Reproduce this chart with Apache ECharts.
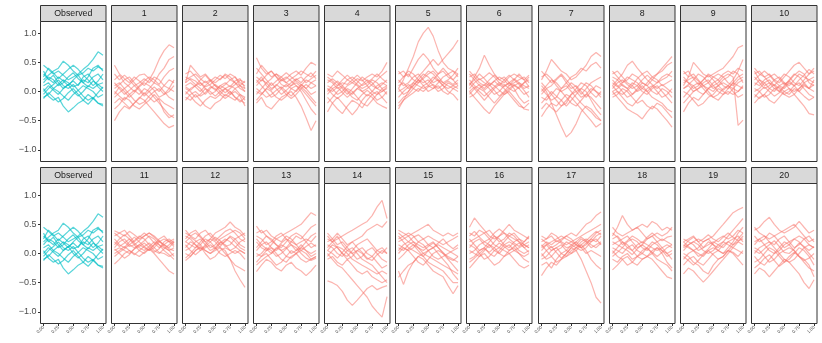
<!DOCTYPE html>
<html>
<head>
<meta charset="utf-8">
<script src="https://cdn.jsdelivr.net/npm/echarts@6/dist/echarts.min.js"></script>
<style>
  html, body { margin: 0; padding: 0; background: #fff; }
  #chart { width: 822px; height: 343px; }
</style>
</head>
<body>
<div id="chart"></div>
<script>
// -----------------------------
// DATA (curves sampled on xGrid)
// -----------------------------
const xGrid = [0, .083, .167, .25, .333, .417, .5, .583, .667, .75, .833, .917, 1];
const xTicks = [0, 0.25, 0.5, 0.75, 1];
const yTicks = [-1, -0.5, 0, 0.5, 1];

const observed = [
  [.45,.38,.30,.35,.28,.20,.25,.30,.38,.45,.55,.68,.62],
  [.20,.28,.35,.40,.52,.45,.35,.28,.32,.40,.35,.42,.38],
  [.10,.15,.05,.12,.20,.15,.08,.12,.20,.15,.25,.30,.20],
  [-.10,-.05,.05,.00,-.08,-.15,-.05,.02,.10,.05,.00,-.10,-.05],
  [.05,-.08,-.15,-.10,-.25,-.35,-.28,-.20,-.15,-.05,-.12,-.20,-.25],
  [.30,.22,.15,.25,.18,.10,.20,.28,.15,.08,.18,.12,.05],
  [-.05,.05,.12,.20,.10,.05,.12,.02,-.08,-.15,-.10,-.20,-.22],
  [.15,.25,.20,.10,.15,.25,.32,.22,.15,.25,.40,.45,.35],
  [.00,.10,.02,-.05,.05,.12,.00,-.08,.00,.10,.05,.12,.15],
  [.35,.20,.28,.15,.05,.12,.18,.10,.25,.30,.20,.08,.00],
  [-.12,-.02,-.10,-.18,-.12,-.02,.05,-.05,-.15,-.22,-.12,-.02,.08],
  [.25,.40,.32,.22,.30,.38,.45,.38,.28,.20,.10,.18,.30]
];
const sim1 = [
  [.45,.30,.22,.15,.25,.18,.10,.20,.35,.55,.70,.80,.75],
  [-.50,-.35,-.25,-.30,-.20,-.10,-.15,-.25,-.35,-.45,-.55,-.62,-.58],
  [.10,.15,.05,.12,.20,.28,.30,.22,.15,.30,.40,.55,.60],
  [.00,-.08,-.15,-.05,.02,-.05,.05,.00,-.10,-.20,-.30,-.40,-.45],
  [.20,.28,.15,.08,.00,.10,.18,.25,.20,.12,.25,.35,.40],
  [-.10,-.02,.05,-.05,-.15,-.22,-.18,-.08,.00,.05,-.05,.00,.10],
  [.05,.12,.20,.25,.15,.05,-.05,.05,.15,.10,.00,-.10,-.15],
  [-.20,-.12,-.20,-.28,-.20,-.12,-.02,-.10,-.18,-.12,-.20,-.25,-.30],
  [.15,.05,-.05,.02,.10,.02,-.08,.00,.08,.00,.10,.20,.15],
  [-.05,.08,.00,-.10,-.02,.08,.15,.10,.02,-.10,-.05,.05,.00],
  [.30,.20,.28,.20,.10,.15,.22,.15,.25,.20,.10,.05,.20],
  [-.30,-.22,-.10,-.15,-.25,-.30,-.22,-.15,-.05,-.15,-.35,-.45,-.40]
];
const sim2 = [
  [.15,.45,.35,.25,.30,.20,.15,.22,.28,.20,.15,.10,.18],
  [.05,.00,-.10,-.05,.05,.00,-.08,.00,.05,.00,-.10,-.15,-.20],
  [.20,.25,.30,.22,.15,.20,.10,.05,.12,.20,.25,.15,.10],
  [-.10,-.15,-.05,-.15,-.25,-.30,-.20,-.15,-.05,-.10,-.15,-.05,-.10],
  [.10,.15,.08,.00,.10,.18,.25,.20,.30,.25,.15,.05,.00],
  [-.05,.05,.10,.15,.05,-.05,.00,.10,.05,-.05,.00,-.08,-.25],
  [.25,.20,.12,.05,-.05,.05,.12,.05,-.02,.05,.12,.20,.15],
  [.00,-.08,-.18,-.25,-.15,-.08,-.12,-.05,.05,.10,.05,-.05,-.15],
  [.15,.22,.18,.10,.18,.10,.02,.10,.15,.08,.18,.22,.05],
  [.08,.02,.10,.20,.28,.18,.10,.00,-.08,.00,-.10,-.18,-.10],
  [.30,.35,.25,.15,.08,.12,.20,.28,.22,.30,.25,.10,.05],
  [-.15,-.05,.00,-.08,-.02,.08,.05,-.05,-.12,-.05,.05,.10,.00]
];
const sim3 = [
  [.58,.40,.30,.35,.25,.18,.22,.30,.35,.28,.40,.50,.45],
  [-.20,-.10,-.25,-.30,-.20,-.10,-.05,.00,-.10,-.25,-.45,-.67,-.50],
  [.10,.20,.15,.05,.10,.20,.25,.18,.10,.00,-.15,-.30,-.40],
  [.30,.45,.35,.25,.30,.20,.15,.22,.28,.35,.30,.25,.35],
  [.00,-.05,.05,.15,.05,-.05,.02,.10,.15,.08,.00,-.10,-.20],
  [.20,.10,.00,-.10,-.05,.05,.12,.05,.00,.10,.20,.15,.10],
  [-.05,.05,.15,.22,.30,.25,.15,.10,.20,.25,.15,.22,.28],
  [.40,.30,.20,.10,.18,.25,.32,.25,.18,.12,.05,.15,.20],
  [.05,-.02,-.10,-.05,.02,.08,.00,-.08,.02,.12,.05,-.05,.00],
  [-.15,-.05,.05,.00,-.10,-.15,-.08,.05,.10,.05,-.05,-.15,-.25],
  [.25,.18,.28,.35,.25,.12,.08,.15,.22,.15,.25,.32,.22],
  [.15,.25,.10,.02,.12,.05,-.05,-.12,-.05,.05,.12,.05,.10]
];
const sim4 = [
  [.30,.25,.35,.28,.20,.15,.22,.18,.25,.30,.25,.35,.50],
  [-.35,-.20,-.10,-.20,-.30,-.40,-.30,-.15,-.05,-.10,-.20,-.25,-.29],
  [.10,.05,-.05,.00,.10,.15,.10,.00,-.08,.00,.10,.15,.10],
  [.00,.10,.18,.10,.02,-.05,.05,.12,.20,.15,.05,.00,.05],
  [-.10,-.20,-.30,-.38,-.25,-.15,-.20,-.28,-.15,-.05,.00,-.10,-.20],
  [.20,.15,.05,.10,.20,.25,.18,.10,.15,.22,.30,.22,.15],
  [-.20,-.10,.00,.08,.00,-.10,-.15,-.05,.02,-.05,-.15,-.10,.00],
  [.15,.22,.15,.05,-.05,.05,.15,.25,.18,.10,.05,.12,.20],
  [.05,-.05,-.12,-.05,.05,.00,-.10,-.20,-.25,-.15,-.05,.05,-.05],
  [.25,.18,.10,.20,.28,.20,.12,.05,.10,.20,.15,.05,.10],
  [-.05,.05,.10,.15,.12,.20,.28,.20,.10,.00,-.05,.00,.08],
  [.05,.00,.08,-.02,-.10,-.02,.05,.00,.05,.12,.20,.28,.35]
];
const sim5 = [
  [.05,.20,.40,.60,.85,1.00,1.10,.95,.70,.50,.40,.35,.30],
  [-.30,-.15,.00,.15,.25,.35,.45,.55,.45,.55,.65,.75,.88],
  [.30,.35,.25,.40,.55,.65,.55,.40,.30,.35,.25,.20,.30],
  [.10,.15,.05,.10,.20,.30,.25,.15,.20,.10,.05,.10,.15],
  [-.20,-.10,-.05,.05,.00,.10,.15,.25,.18,.10,.00,-.05,-.15],
  [.20,.10,.15,.25,.30,.20,.10,.05,.15,.25,.30,.35,.25],
  [.00,.05,.12,.05,.15,.22,.30,.35,.25,.15,.20,.28,.40],
  [.35,.25,.30,.20,.15,.25,.35,.30,.20,.15,.10,.05,.00],
  [-.10,.00,.08,.15,.10,.05,.10,.20,.30,.40,.30,.20,.10],
  [.15,.25,.35,.30,.20,.10,.00,.05,.10,.00,-.05,.05,.10],
  [.05,-.05,.00,.10,.20,.15,.20,.10,.00,.05,.15,.10,.05],
  [-.25,-.15,-.08,-.02,.05,.00,.08,.12,.05,.12,.18,.12,.20]
];
const sim6 = [
  [.10,.25,.40,.62,.45,.30,.20,.25,.15,.10,.05,.15,.20],
  [.00,-.10,-.20,-.30,-.38,-.25,-.15,-.05,.00,-.10,-.20,-.30,-.32],
  [.35,.25,.15,.10,.20,.28,.20,.15,.25,.30,.25,.20,.28],
  [.20,.10,.05,.12,.05,-.05,.00,.10,.15,.05,-.10,-.20,-.15],
  [-.10,-.05,.05,.00,-.10,-.20,-.10,-.02,.05,.12,.05,-.05,.00],
  [.05,.15,.22,.15,.10,.18,.25,.20,.10,.15,.20,.25,.15],
  [.15,.05,-.05,-.15,-.05,.05,.12,.05,-.05,-.15,-.25,-.28,-.20],
  [.25,.30,.20,.25,.32,.25,.15,.08,.15,.22,.15,.10,.05],
  [-.05,.05,.12,.05,.15,.10,.02,-.05,.02,.10,.15,.05,.10],
  [.30,.20,.10,.02,.10,.18,.10,.20,.28,.20,.12,.02,-.10],
  [.00,.08,.00,-.08,.00,.08,.15,.12,.05,.00,.08,.15,.25],
  [.12,.20,.30,.22,.12,.02,-.08,.00,.10,.20,.30,.20,.08]
];
const sim7 = [
  [.10,.00,-.20,-.40,-.60,-.78,-.70,-.55,-.35,-.25,-.30,-.40,-.50],
  [.20,.35,.55,.45,.35,.30,.20,.25,.35,.45,.60,.67,.60],
  [-.43,-.30,-.20,-.25,-.15,-.05,-.10,-.20,-.30,-.40,-.50,-.61,-.55],
  [.00,.10,.20,.15,.05,.15,.25,.30,.40,.35,.45,.50,.40],
  [.35,.25,.15,.22,.30,.20,.10,.00,.05,.15,.10,.00,-.05],
  [-.10,-.15,-.05,.05,.00,-.10,-.20,-.25,-.15,-.05,-.10,-.20,-.30],
  [.15,.05,.10,.20,.28,.15,.05,.10,.00,-.10,.00,.10,.05],
  [-.20,-.10,.00,-.08,-.15,-.25,-.15,-.05,.05,.00,-.15,-.30,-.40],
  [.25,.30,.22,.10,.00,.05,.15,.08,-.05,.05,.15,.20,.25],
  [-.05,.05,-.05,-.15,-.25,-.20,-.05,.05,.15,.10,-.02,-.10,.00],
  [.05,-.05,-.15,-.10,.05,.10,.00,-.10,-.20,-.28,-.35,-.45,-.50],
  [-.30,-.20,-.28,-.35,-.25,-.15,-.05,.00,-.10,-.05,.05,.00,-.10]
];
const sim8 = [
  [.10,.20,.30,.45,.52,.40,.30,.35,.25,.30,.40,.50,.60],
  [.00,-.10,-.20,-.30,-.35,-.40,-.47,-.35,-.25,-.30,-.40,-.50,-.61],
  [.35,.25,.15,.20,.30,.25,.15,.10,.20,.30,.35,.45,.50],
  [.20,.10,.00,-.10,-.05,.05,.15,.10,.00,-.05,.05,.00,-.10],
  [-.10,-.05,.05,.00,-.10,-.20,-.15,-.25,-.30,-.20,-.25,-.35,-.45],
  [.05,.15,.20,.12,.05,.10,.20,.28,.20,.15,.20,.25,.35],
  [.25,.20,.10,.05,.15,.10,.00,-.05,.05,.10,.00,-.10,-.20],
  [-.05,.00,-.10,-.20,-.25,-.15,-.05,.05,.10,.00,-.10,-.05,.05],
  [.15,.08,.15,.25,.20,.15,.05,.15,.25,.20,.10,.15,.20],
  [.30,.35,.25,.15,.10,.00,.05,.00,-.10,-.15,-.20,-.30,-.35],
  [.00,.05,.12,.05,-.05,.02,.10,.00,.08,.15,.25,.30,.25],
  [.10,.00,-.05,.02,.10,.22,.30,.20,.12,.05,.12,.05,-.02]
];
const sim9 = [
  [.10,.25,.50,.40,.30,.25,.30,.35,.40,.50,.60,.75,.79],
  [.05,.10,.00,.05,.15,.20,.10,.15,.25,.30,.25,-.58,-.49],
  [-.35,-.20,-.10,-.15,-.05,.05,.00,.10,.15,.10,.20,.35,.55],
  [.35,.25,.30,.20,.10,.05,.15,.20,.10,.05,.15,.10,.05],
  [.00,-.05,-.15,-.25,-.20,-.10,-.05,.05,.00,-.05,.05,.15,.20],
  [.20,.15,.05,.10,.20,.30,.25,.20,.30,.35,.30,.40,.35],
  [-.10,.00,.10,.15,.05,-.05,-.10,-.05,.05,.10,.00,-.10,-.05],
  [.15,.20,.25,.18,.10,.15,.25,.30,.25,.15,.10,.20,.25],
  [.25,.15,.10,.00,-.05,.05,.10,.00,-.05,.05,.15,.25,.30],
  [-.20,-.10,.00,.05,.10,.00,-.10,-.15,-.05,.00,-.05,.00,.10],
  [.05,.12,.20,.30,.25,.15,.05,.10,.20,.25,.35,.30,.15],
  [.30,.35,.22,.12,.20,.28,.20,.10,.02,.10,.05,.00,.08]
];
const sim10 = [
  [.40,.30,.25,.30,.20,.15,.25,.35,.45,.50,.40,.30,.35],
  [-.20,-.10,-.05,-.15,-.20,-.10,.00,.05,-.05,-.15,-.25,-.38,-.40],
  [.10,.20,.15,.05,.00,.10,.15,.10,.20,.30,.25,.20,.15],
  [.25,.15,.05,.10,.20,.25,.15,.05,.00,.05,.15,.20,.25],
  [.00,.05,.15,.20,.10,.00,-.05,.00,.10,.15,.05,-.05,-.10],
  [.30,.35,.25,.15,.10,.20,.30,.25,.15,.10,.20,.30,.40],
  [-.05,-.12,-.05,.05,.12,.05,-.05,-.10,-.05,.05,.12,.05,.00],
  [.15,.10,.20,.25,.30,.22,.12,.18,.28,.35,.30,.15,.10],
  [.05,.00,-.10,-.05,.05,.08,.00,-.05,.05,.00,-.08,-.15,-.10],
  [.20,.28,.35,.28,.18,.10,.05,.15,.10,.20,.28,.38,.30],
  [-.10,.00,.08,.00,-.08,-.02,.08,.18,.10,.00,.10,.05,.12],
  [.35,.20,.10,.15,.05,.00,.10,.20,.30,.25,.15,.05,.20]
];
const sim11 = [
  [.39,.35,.30,.38,.32,.25,.30,.35,.28,.20,.25,.20,.25],
  [-.18,-.10,.00,.05,.00,-.05,.02,.08,.00,-.10,-.20,-.30,-.35],
  [.10,.20,.25,.15,.10,.15,.22,.30,.25,.15,.10,.05,.10],
  [.25,.15,.10,.20,.28,.20,.12,.05,.10,.20,.15,.10,.20],
  [.00,.05,.12,.05,-.02,.05,.12,.18,.10,.02,.00,-.05,.00],
  [.30,.35,.40,.30,.20,.28,.35,.28,.18,.10,.15,.22,.15],
  [.05,.10,.05,.00,.08,.15,.10,.05,.15,.22,.15,.08,.05],
  [.20,.12,.18,.25,.18,.10,.05,.12,.20,.15,.05,-.02,-.10],
  [-.05,.02,.08,.15,.22,.30,.25,.15,.05,.00,.08,.15,.22],
  [.15,.25,.32,.25,.15,.05,.00,.08,.15,.25,.30,.20,.12],
  [.35,.28,.20,.12,.15,.22,.30,.35,.30,.22,.12,.05,-.05],
  [.08,.00,-.08,-.02,.08,.12,.18,.10,.02,.08,.20,.25,.18]
];
const sim12 = [
  [.40,.30,.35,.28,.20,.25,.35,.40,.45,.54,.45,.40,.30],
  [-.12,-.05,.05,.10,.05,.00,.05,.10,.05,-.10,-.30,-.45,-.58],
  [.10,.20,.15,.05,.15,.25,.20,.10,.00,-.10,-.20,-.25,-.30],
  [.25,.35,.40,.30,.20,.10,.15,.25,.30,.35,.40,.35,.25],
  [.00,-.05,.05,.12,.00,-.10,-.05,.05,.10,.05,.00,.05,.00],
  [.20,.15,.10,.20,.30,.35,.25,.15,.20,.30,.25,.15,.10],
  [.05,.10,.20,.25,.15,.05,.10,.20,.15,.05,.10,.20,.25],
  [.30,.25,.15,.08,.12,.20,.28,.22,.12,.15,.25,.30,.35],
  [-.08,.00,.10,.15,.25,.20,.10,.00,-.05,.00,.05,.00,-.10],
  [.15,.05,-.02,.05,.10,.15,.08,.12,.22,.28,.20,.10,.05],
  [.20,.28,.22,.15,.05,.00,.08,.18,.25,.20,.12,.05,.00],
  [.35,.30,.25,.35,.40,.30,.22,.30,.38,.42,.35,.25,.20]
];
const sim13 = [
  [.47,.35,.40,.30,.25,.30,.35,.40,.45,.50,.60,.70,.65],
  [-.31,-.20,-.10,-.15,-.25,-.30,-.20,-.15,-.25,-.30,-.38,-.30,-.20],
  [.10,.20,.30,.25,.15,.05,.10,.20,.30,.25,.35,.45,.50],
  [.00,-.05,.05,.10,.00,-.10,-.15,-.05,.00,.10,.05,.00,.05],
  [.30,.25,.15,.20,.30,.35,.25,.20,.15,.05,.00,-.10,-.05],
  [-.15,-.05,.00,-.10,-.20,-.15,-.05,.05,.00,-.10,-.15,-.10,-.05],
  [.20,.10,.05,.15,.25,.20,.30,.25,.15,.20,.25,.20,.30],
  [.05,.15,.20,.10,.05,.15,.10,.00,.05,.15,.05,-.05,.00],
  [.35,.40,.30,.22,.15,.10,.20,.30,.35,.30,.20,.10,.15],
  [-.05,.00,.10,.05,-.05,.00,.08,.15,.10,.00,-.08,-.12,-.08],
  [.25,.15,.08,.00,.08,.18,.25,.15,.05,.10,.20,.30,.35],
  [-.20,-.12,-.05,.00,.10,.05,-.05,-.08,.00,.05,.12,.18,.12]
];
const sim14 = [
  [-.47,-.50,-.55,-.65,-.80,-.89,-.80,-.70,-.60,-.55,-.62,-.58,-.55],
  [.00,-.10,-.20,-.25,-.35,-.45,-.55,-.65,-.75,-.90,-1.00,-1.09,-.74],
  [.10,.20,.25,.30,.35,.40,.45,.50,.55,.65,.80,.91,.60],
  [.20,.25,.35,.25,.15,.20,.25,.30,.40,.45,.50,.45,.55],
  [.35,.25,.15,.20,.10,.00,.05,.10,.00,-.05,.05,.10,.00],
  [-.10,-.05,-.15,-.20,-.10,-.20,-.30,-.35,-.30,-.40,-.45,-.50,-.45],
  [.15,.10,.00,-.05,.05,.10,.00,-.10,-.15,-.20,-.30,-.40,-.50],
  [.05,.15,.10,.00,-.10,-.05,.05,.00,-.10,-.05,-.15,-.25,-.20],
  [.25,.20,.30,.15,.05,.00,-.10,-.05,.05,.10,.00,-.10,-.15],
  [-.05,.05,.12,.08,.00,-.10,-.15,-.20,-.25,-.30,-.35,-.30,-.35],
  [.30,.20,.10,.00,-.05,.05,.15,.20,.25,.15,.05,.00,.10],
  [.05,.00,-.08,.02,.12,.20,.10,.02,-.08,-.12,-.02,.05,.00]
];
const sim15 = [
  [-.30,-.53,-.30,-.15,-.05,.00,-.05,-.10,-.15,-.20,-.25,-.30,-.35],
  [.40,.35,.30,.35,.40,.45,.50,.40,.35,.30,.35,.30,.35],
  [-.41,-.30,-.20,-.15,-.05,-.10,-.20,-.30,-.35,-.40,-.55,-.69,-.55],
  [.20,.25,.30,.20,.15,.10,.15,.20,.10,.00,-.10,-.20,-.30],
  [.10,.05,.15,.20,.10,.00,.05,.10,.15,.10,.05,.00,-.05],
  [.30,.20,.10,.05,.00,-.05,.05,.10,.00,-.10,-.20,-.35,-.45],
  [.00,.10,.05,-.05,-.15,-.20,-.10,.00,.05,.00,-.05,-.10,-.15],
  [.25,.30,.35,.30,.20,.25,.30,.25,.20,.15,.20,.25,.30],
  [.15,.10,.05,.10,.20,.15,.05,-.05,-.10,-.05,.00,.05,.10],
  [.05,.15,.20,.15,.05,-.05,-.15,-.20,-.25,-.30,-.40,-.50,-.50],
  [.35,.28,.20,.28,.32,.25,.15,.10,.18,.25,.15,.08,.15],
  [-.10,-.02,.08,.15,.10,.05,.12,.18,.10,.02,-.08,-.12,-.05]
];
const sim16 = [
  [.45,.61,.50,.40,.30,.25,.30,.35,.30,.25,.20,.15,.20],
  [-.25,-.15,-.05,.00,-.10,-.20,-.15,-.05,.00,-.10,-.20,-.25,-.20],
  [.10,.20,.25,.15,.10,.20,.30,.40,.50,.40,.35,.30,.25],
  [.25,.15,.05,.10,.20,.30,.25,.15,.10,.20,.25,.20,.30],
  [.00,.05,.15,.20,.15,.05,.00,.10,.15,.05,.00,-.05,.00],
  [.35,.30,.40,.35,.25,.15,.10,.20,.30,.35,.25,.15,.10],
  [-.10,-.05,.05,.10,.00,-.05,.05,.15,.20,.15,.05,.00,.05],
  [.15,.10,.00,-.10,-.05,.05,.10,.05,.00,.05,.10,.15,.10],
  [.20,.25,.30,.35,.40,.30,.20,.25,.35,.30,.20,.10,.15],
  [.05,.00,-.05,.05,.15,.10,.00,-.05,.05,.10,.00,-.10,-.15],
  [.30,.38,.28,.20,.25,.35,.42,.35,.25,.18,.12,.20,.28],
  [-.15,-.08,.00,.08,.02,.10,.18,.12,.05,.12,.18,.10,.02]
];
const sim17 = [
  [.10,.15,.05,.10,.15,.05,.00,.05,-.10,-.30,-.50,-.75,-.85],
  [.20,.25,.30,.20,.25,.30,.35,.30,.40,.50,.55,.65,.71],
  [-.38,-.25,-.15,-.20,-.10,-.05,.00,.10,.15,.05,-.10,-.20,-.27],
  [.30,.25,.35,.30,.20,.15,.20,.25,.30,.35,.40,.45,.50],
  [.00,-.10,-.05,.05,.10,.20,.15,.10,.20,.25,.20,.30,.35],
  [-.10,-.05,.05,.10,.00,.05,.15,.20,.10,.15,.25,.20,.30],
  [.15,.05,-.05,-.15,-.10,.00,.10,.15,.10,.00,.05,.00,-.05],
  [.05,.15,.20,.25,.30,.25,.20,.15,.25,.20,.10,.15,.20],
  [-.20,-.15,-.25,-.10,.00,-.05,.05,.10,.05,.10,.20,.25,.15],
  [.25,.18,.10,.15,.22,.30,.25,.15,.10,.18,.25,.35,.40],
  [-.05,.05,.12,.02,-.08,.00,.10,.05,.15,.22,.15,.10,.18],
  [.12,.20,.15,.22,.18,.10,.12,.20,.28,.22,.30,.38,.32]
];
const sim18 = [
  [.30,.45,.65,.50,.40,.45,.50,.45,.55,.50,.40,.45,.40],
  [-.28,-.20,-.10,-.05,-.15,-.20,-.10,-.05,-.10,-.20,-.30,-.40,-.43],
  [.45,.35,.30,.35,.40,.45,.35,.25,.30,.35,.30,.35,.45],
  [.10,.05,.00,.10,.15,.05,.00,.10,.20,.15,.05,.00,.05],
  [.00,.10,.20,.15,.05,-.05,-.10,-.05,.05,.10,.00,-.15,-.25],
  [.20,.15,.10,.20,.25,.20,.10,.05,.15,.20,.25,.20,.15],
  [-.10,-.15,-.05,.00,-.10,-.05,.05,.10,.00,-.10,-.15,-.20,-.30],
  [.25,.30,.20,.10,.05,.15,.20,.15,.10,.05,.10,.15,.10],
  [.05,-.05,-.10,-.20,-.15,-.05,.00,-.05,.00,.10,.05,-.05,.00],
  [.15,.20,.25,.30,.20,.10,.15,.25,.30,.20,.10,.00,-.10],
  [-.05,.02,.10,.05,-.02,.08,.15,.08,.02,-.05,.02,.10,.15],
  [.35,.28,.15,.22,.30,.25,.18,.28,.35,.28,.22,.28,.30]
];
const sim19 = [
  [.10,.15,.20,.25,.20,.25,.30,.40,.50,.60,.70,.75,.79],
  [-.35,-.25,-.30,-.40,-.49,-.40,-.30,-.20,-.10,.00,.10,.20,.30],
  [.25,.20,.15,.05,.10,.20,.15,.10,.20,.30,.40,.50,.60],
  [.00,-.05,-.15,-.20,-.30,-.35,-.20,-.10,-.05,.05,.00,-.10,-.20],
  [.20,.25,.30,.20,.10,.15,.20,.15,.10,.20,.25,.30,.20],
  [-.10,.00,.05,.00,-.05,.05,.10,.05,.15,.20,.15,.25,.35],
  [.15,.10,.05,.10,.20,.25,.15,.05,.00,.05,.15,.20,.15],
  [.05,.15,.20,.15,.05,.00,.05,.15,.20,.15,.10,.05,.00],
  [-.20,-.10,-.05,-.15,-.20,-.10,.00,.05,.00,.10,.20,.35,.45],
  [.20,.12,.05,-.05,.00,.08,.18,.25,.30,.25,.30,.40,.35],
  [-.05,-.12,-.20,-.12,-.02,.05,-.02,-.10,-.05,.05,.02,-.05,.05],
  [.12,.22,.28,.20,.25,.32,.25,.20,.28,.35,.28,.22,.25]
];
const sim20 = [
  [.40,.45,.55,.62,.50,.40,.35,.40,.45,.55,.45,.35,.40],
  [-.35,-.25,-.30,-.40,-.30,-.20,-.10,-.15,-.25,-.35,-.50,-.60,-.45],
  [.45,.35,.30,.25,.30,.35,.40,.45,.50,.40,.30,.20,.25],
  [.10,.05,-.05,-.15,-.10,.00,.05,.10,.05,-.05,-.15,-.25,-.30],
  [.00,.10,.15,.20,.10,.00,-.10,-.15,-.10,.00,.10,.15,.10],
  [.20,.25,.15,.05,.00,.05,.15,.20,.25,.20,.10,.00,-.10],
  [-.15,-.10,.00,.10,.05,-.05,-.15,-.10,.00,.10,.05,-.05,-.20],
  [.30,.20,.25,.35,.30,.20,.10,.15,.25,.30,.25,.15,.10],
  [-.05,-.15,-.20,-.10,.00,.10,.20,.15,.05,-.05,-.10,-.20,-.40],
  [.15,.25,.30,.20,.15,.25,.30,.20,.10,.15,.25,.30,.20],
  [.05,.00,.08,.15,.22,.12,.02,.00,.08,.18,.12,.05,.12],
  [-.25,-.18,-.08,-.02,-.12,-.22,-.15,-.05,.02,-.05,-.12,-.08,.00]
];

const panelLabels = [
  "Observed", "1", "2", "3", "4", "5", "6", "7", "8", "9", "10",
  "Observed", "11", "12", "13", "14", "15", "16", "17", "18", "19", "20"
];
const panelCurves = [
  observed, sim1, sim2, sim3, sim4, sim5, sim6, sim7, sim8, sim9, sim10,
  observed, sim11, sim12, sim13, sim14, sim15, sim16, sim17, sim18, sim19, sim20
];

// -----------------------------
// LAYOUT
// -----------------------------
const NCOL = 11;
const colLeft0 = 39.5, colPitch = 71.15, plotW = 65.5;
const rows = [
  { stripTop: 5.5, plotTop: 21.5, plotH: 140 },
  { stripTop: 167.5, plotTop: 183.5, plotH: 140 }
];
const OBS_COLOR = "#00BFC4";
const SIM_COLOR = "#F8766D";
const FONT = "Liberation Sans, Arial, sans-serif";
const minus = (s) => s.replace("-", "\u2212");

const chart = echarts.init(document.getElementById("chart"), null, { renderer: "canvas" });

const grids = [], xAxes = [], yAxes = [], series = [], graphics = [];

panelLabels.forEach((label, p) => {
  const r = Math.floor(p / NCOL), c = p % NCOL;
  const row = rows[r];
  const left = Math.round(colLeft0 + c * colPitch) + 0.5;
  const isBottom = r === rows.length - 1;
  const isFirstCol = c === 0;

  grids.push({
    left: left, top: row.plotTop, width: plotW, height: row.plotH,
    show: true, backgroundColor: "#fff", borderColor: "#333", borderWidth: 1
  });

  xAxes.push({
    type: "value", gridIndex: p, min: -0.05, max: 1.05, position: "bottom",
    splitLine: { show: false },
    axisLine: { show: false, onZero: false },
    axisTick: {
      show: isBottom, length: 2.5, customValues: xTicks,
      lineStyle: { color: "#333", width: 1 }
    },
    axisLabel: {
      show: isBottom, customValues: xTicks, rotate: 45, margin: 3,
      fontSize: 4.5, color: "#4d4d4d", fontFamily: FONT,
      formatter: (v) => v.toFixed(2)
    }
  });

  yAxes.push({
    type: "value", gridIndex: p, min: -1.2, max: 1.2, position: "left",
    splitLine: { show: false },
    axisLine: { show: false, onZero: false },
    axisTick: {
      show: isFirstCol, length: 2.5, customValues: yTicks,
      lineStyle: { color: "#333", width: 1 }
    },
    axisLabel: {
      show: isFirstCol, customValues: yTicks, margin: 4,
      fontSize: 9, color: "#4d4d4d", fontFamily: FONT,
      formatter: (v) => minus(v.toFixed(1))
    }
  });

  const color = label === "Observed" ? OBS_COLOR : SIM_COLOR;
  const opacity = label === "Observed" ? 0.65 : 0.55;
  panelCurves[p].forEach((curve) => {
    series.push({
      type: "line", xAxisIndex: p, yAxisIndex: p,
      data: xGrid.map((x, k) => [x, curve[k]]),
      symbol: "none", showSymbol: false, silent: true,
      clip: true,
      lineStyle: { color: color, width: 1.2, opacity: opacity }
    });
  });

  // strip header
  graphics.push({
    type: "rect",
    shape: { x: left, y: row.stripTop, width: plotW, height: row.plotTop - row.stripTop },
    style: { fill: "#d9d9d9", stroke: "#333", lineWidth: 1 },
    silent: true
  });
  graphics.push({
    type: "text",
    x: left + plotW / 2, y: (row.stripTop + row.plotTop) / 2 + 0.5,
    style: {
      text: label, fill: "#1a1a1a", font: "8.8px " + FONT,
      textAlign: "center", textVerticalAlign: "middle"
    },
    silent: true
  });
});

chart.setOption({
  animation: false,
  backgroundColor: "#fff",
  grid: grids,
  xAxis: xAxes,
  yAxis: yAxes,
  series: series,
  graphic: { elements: graphics }
});
</script>
</body>
</html>
